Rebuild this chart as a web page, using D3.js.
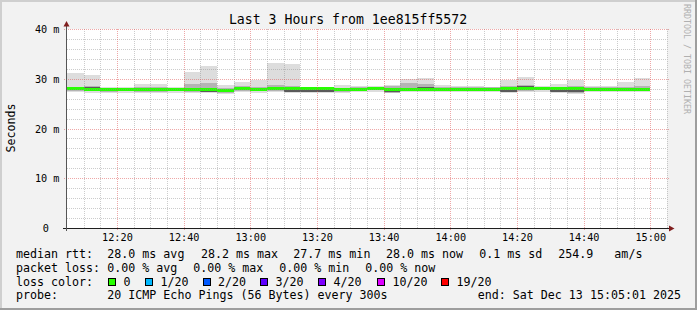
<!DOCTYPE html>
<html>
<head>
<meta charset="utf-8">
<script src="https://cdn.jsdelivr.net/npm/d3@7"></script>
<style>
  body { margin: 0; background: #f2f2f2; }
  svg { display: block; font-family: "DejaVu Sans Mono", monospace; }
  text { white-space: pre; }
</style>
</head>
<body>
<div id="chart"></div>
<script>
// ---- data (5 minute bins, ms) ----
const binEnds = ["12:10","12:15","12:20","12:25","12:30","12:35","12:40","12:45","12:50","12:55",
  "13:00","13:05","13:10","13:15","13:20","13:25","13:30","13:35","13:40","13:45",
  "13:50","13:55","14:00","14:05","14:10","14:15","14:20","14:25","14:30","14:35",
  "14:40","14:45","14:50","14:55","15:00"];

const rttMedian = [28.2,28.0,27.9,28.0,28.0,27.9,28.0,27.9,28.0,27.7,28.1,28.0,28.1,28.1,28.1,28.1,27.9,28.0,28.2,28.0,
  28.0,28.0,28.0,28.0,28.0,28.0,28.1,28.1,28.2,28.1,28.1,28.0,28.0,28.0,28.0];
const rttMax = [31.2,30.8,28.4,28.5,29.0,29.0,28.5,31.4,32.6,28.9,29.5,29.9,33.2,33.0,28.5,28.5,28.9,28.7,28.6,28.9,
  30.0,30.2,28.9,28.7,28.7,28.5,29.9,30.4,28.6,29.1,29.9,28.6,28.6,29.5,30.2];
const rttP75 = [28.5,28.6,28.2,28.3,28.5,28.4,28.3,29.0,29.3,28.3,28.6,28.5,28.8,28.7,28.4,28.4,28.3,28.4,28.5,28.6,
  29.3,29.0,28.4,28.4,28.4,28.4,28.6,28.8,28.5,28.5,28.7,28.4,28.4,28.5,28.6];
const rttP60 = [28.4,28.5,28.1,28.2,28.2,28.1,28.2,28.1,28.2,27.9,28.3,28.2,28.3,28.3,28.3,28.3,28.1,28.2,28.4,28.2,
  28.2,28.5,28.2,28.2,28.2,28.2,28.3,28.6,28.4,28.3,28.3,28.2,28.2,28.2,28.2];
const rttP40 = [28.0,27.8,27.7,27.8,27.6,27.7,27.8,27.7,27.5,27.5,27.9,27.8,27.9,27.5,27.5,27.5,27.7,27.8,28.0,27.4,
  27.8,27.8,27.8,27.8,27.8,27.8,27.5,27.9,28.0,27.5,27.4,27.8,27.8,27.8,27.8];
const rttP25 = [27.7,27.6,27.5,27.6,27.5,27.5,27.6,27.5,27.4,27.3,27.7,27.6,27.7,27.4,27.4,27.4,27.5,27.6,27.8,27.3,
  27.6,27.6,27.6,27.6,27.6,27.6,27.4,27.7,27.8,27.4,27.3,27.6,27.6,27.6,27.6];
const rttMin = [27.4,27.3,27.2,27.3,27.3,27.2,27.3,27.2,27.2,27.1,27.4,27.3,27.4,27.3,27.3,27.3,27.3,27.4,27.5,27.2,
  27.4,27.4,27.4,27.4,27.4,27.4,27.3,27.4,27.4,27.3,27.1,27.4,27.4,27.4,27.4];

const xTickLabels = ["12:20","12:40","13:00","13:20","13:40","14:00","14:20","14:40","15:00"];
const yTicks = [0, 10, 20, 30, 40];
const yTickLabels = ["0", "10 m", "20 m", "30 m", "40 m"];

const lossLabels = ["0","1/20","2/20","3/20","4/20","10/20","19/20"];
const lossColors = ["#26ff00","#00b8ff","#0059ff","#5e00ff","#7e00ff","#dd00ff","#ff0000"];

const titleText = "Last 3 Hours from 1ee815ff5572";
const rowMedian = ["median rtt:", "28.0 ms avg", "28.2 ms max", "27.7 ms min", "28.0 ms now", "0.1 ms sd", "254.9   am/s"];
const rowLoss = ["packet loss:", "0.00 % avg", "0.00 % max", "0.00 % min", "0.00 % now"];
const rowProbe = ["probe:", "20 ICMP Echo Pings (56 Bytes) every 300s"];
const endText = "end: Sat Dec 13 15:05:01 2025";

// ---- layout ----
const W = 697, H = 310;
const day = [2025, 11, 13];
const startTime = new Date(...day, 12, 5, 1);
const endTime = new Date(...day, 15, 5, 1);
const parseHM = s => { const p = s.split(":"); return new Date(...day, +p[0], +p[1], 0); };

const x = d3.scaleTime().domain([startTime, endTime]).range([67, 667]);
const y = d3.scaleLinear().domain([0, 40]).range([228.5, 29.5]);

const svg = d3.select("#chart").append("svg")
    .attr("width", W)
    .attr("height", H);

// background and shaded frame
svg.append("rect").attr("width", W).attr("height", H).attr("fill", "#f2f2f2");
svg.append("path").attr("d", "M0,0H697V2H2V310H0Z").attr("fill", "#cfcfcf");
svg.append("path").attr("d", "M697,0V310H0V308H695V0Z").attr("fill", "#9e9e9e");

// canvas
svg.append("rect")
    .attr("x", 67).attr("y", 29)
    .attr("width", 600).attr("height", 200)
    .attr("fill", "#ffffff");

svg.append("clipPath").attr("id", "plotclip")
  .append("rect").attr("x", 67).attr("y", 20).attr("width", 600).attr("height", 209);

const bins = binEnds.map((t, i) => {
  const e = parseHM(t);
  return {
    start: d3.timeMinute.offset(e, -5), end: e,
    median: rttMedian[i], max: rttMax[i], p75: rttP75[i], p60: rttP60[i],
    p40: rttP40[i], p25: rttP25[i], min: rttMin[i]
  };
});

const px = t => Math.round(x(t));

// smoke
const smoke = [
  {lo: "min", hi: "max", color: "#dddddd"},
  {lo: "p25", hi: "p75", color: "#b4b4b4"},
  {lo: "p40", hi: "p60", color: "#5a5a5a"}
];
const dataG = svg.append("g").attr("clip-path", "url(#plotclip)");
smoke.forEach(layer => {
  dataG.append("g")
    .selectAll("rect")
    .data(bins)
    .enter()
    .append("rect")
      .attr("x", d => px(d.start))
      .attr("width", d => px(d.end) - px(d.start))
      .attr("y", d => Math.round(y(d[layer.hi])))
      .attr("height", d => Math.max(1, Math.round(y(d[layer.lo])) - Math.round(y(d[layer.hi]))))
      .attr("fill", layer.color)
      .attr("shape-rendering", "crispEdges");
});

// median band (loss 0 colour)
dataG.append("g")
  .selectAll("rect")
  .data(bins)
  .enter()
  .append("rect")
    .attr("x", d => px(d.start))
    .attr("width", d => px(d.end) - px(d.start))
    .attr("y", d => Math.round(y(d.median) - 1.5))
    .attr("height", 3)
    .attr("fill", lossColors[0])
    .attr("shape-rendering", "crispEdges");

// grid (drawn over the graph like rrdtool)
const gridG = svg.append("g").attr("fill", "none").attr("stroke-dasharray", "1,1");
const minorTimes = d3.timeMinute.every(5).range(startTime, endTime)
    .filter(t => t.getMinutes() % 20 !== 0);
const majorTimes = xTickLabels.map(parseHM);

gridG.selectAll(".vmin").data(minorTimes).enter().append("line")
    .attr("x1", d => px(d) + 0.5).attr("x2", d => px(d) + 0.5)
    .attr("y1", 29).attr("y2", 228)
    .attr("stroke", "#8f8f8f").attr("stroke-opacity", 0.45);

const yMinor = d3.range(2, 40, 2).filter(v => v % 10 !== 0);
gridG.selectAll(".hmin").data(yMinor).enter().append("line")
    .attr("x1", 67).attr("x2", 667)
    .attr("y1", d => Math.round(y(d) - 0.5) + 0.5).attr("y2", d => Math.round(y(d) - 0.5) + 0.5)
    .attr("stroke", "#8f8f8f").attr("stroke-opacity", 0.45);

gridG.selectAll(".vmaj").data(majorTimes).enter().append("line")
    .attr("x1", d => px(d) + 0.5).attr("x2", d => px(d) + 0.5)
    .attr("y1", 29).attr("y2", 231)
    .attr("stroke", "#de4f4f").attr("stroke-opacity", 0.5);

gridG.selectAll(".hmaj").data(yTicks.filter(v => v > 0)).enter().append("line")
    .attr("x1", 64).attr("x2", 669)
    .attr("y1", d => Math.round(y(d) - 0.5) + 0.5).attr("y2", d => Math.round(y(d) - 0.5) + 0.5)
    .attr("stroke", "#de4f4f").attr("stroke-opacity", 0.5);

// axes
svg.append("line")
    .attr("x1", 63).attr("x2", 670).attr("y1", 228.5).attr("y2", 228.5)
    .attr("stroke", "#1f1f1f");
svg.append("line")
    .attr("x1", 66.5).attr("x2", 66.5).attr("y1", 231).attr("y2", 25)
    .attr("stroke", "#555555");
svg.append("path").attr("d", "M66.5,21L63.5,26.5L69.5,26.5Z").attr("fill", "#801f1f");
svg.append("path").attr("d", "M674.5,228.5L669,225.5L669,231.5Z").attr("fill", "#801f1f");

// tick labels
svg.append("g").selectAll("text").data(majorTimes).enter().append("text")
    .attr("x", d => x(d) + 0.5)
    .attr("y", 241)
    .attr("text-anchor", "middle")
    .style("font-size", "10.2px")
    .attr("fill", "#000")
    .text((d, i) => xTickLabels[i]);

svg.append("g").selectAll("text").data(yTicks).enter().append("text")
    .attr("x", d => d === 0 ? 49 : 59.5)
    .attr("y", d => y(d) + 3.6)
    .attr("text-anchor", "end")
    .style("font-size", "10.2px")
    .attr("fill", "#000")
    .text((d, i) => yTickLabels[i]);

// title, unit, watermark
svg.append("text")
    .attr("x", 348).attr("y", 24)
    .attr("text-anchor", "middle")
    .style("font-size", "13.2px")
    .text(titleText);

svg.append("text")
    .attr("transform", "translate(14.5,128) rotate(-90)")
    .attr("text-anchor", "middle")
    .style("font-size", "11.65px")
    .text("Seconds");

svg.append("text")
    .attr("transform", "translate(684,4) rotate(90)")
    .style("font-size", "8.3px")
    .attr("fill", "#b0b0b0")
    .text("RRDTOOL / TOBI OETIKER");

// legend
const legend = svg.append("g").style("font-size", "11.65px").attr("fill", "#000");
const rowY = [258.3, 271.9, 285.5, 299.1];

const medianX = [16, 107.3, 201, 293.3, 386, 479.3, 558.3];
legend.selectAll(".r1").data(rowMedian).enter().append("text")
    .attr("x", (d, i) => medianX[i]).attr("y", rowY[0]).text(d => d);

const lossX = [16, 107.3, 193.3, 279.3, 365.3];
legend.selectAll(".r2").data(rowLoss).enter().append("text")
    .attr("x", (d, i) => lossX[i]).attr("y", rowY[1]).text(d => d);

legend.append("text").attr("x", 16).attr("y", rowY[2]).text("loss color:");
const boxX = [108.5, 145.5, 203, 260.5, 318.5, 377.5, 441.5];
const lossItems = legend.selectAll(".r3").data(lossLabels).enter().append("g");
lossItems.append("rect")
    .attr("x", (d, i) => boxX[i]).attr("y", rowY[2] - 7)
    .attr("width", 7).attr("height", 7)
    .attr("fill", (d, i) => lossColors[i])
    .attr("stroke", "#000")
    .attr("shape-rendering", "crispEdges");
lossItems.append("text")
    .attr("x", (d, i) => boxX[i] + 15).attr("y", rowY[2]).text(d => d);

const probeX = [16, 107.3];
legend.selectAll(".r4").data(rowProbe).enter().append("text")
    .attr("x", (d, i) => probeX[i]).attr("y", rowY[3]).text(d => d);
legend.append("text")
    .attr("x", 681).attr("y", rowY[3])
    .attr("text-anchor", "end")
    .text(endText);
</script>
</body>
</html>
